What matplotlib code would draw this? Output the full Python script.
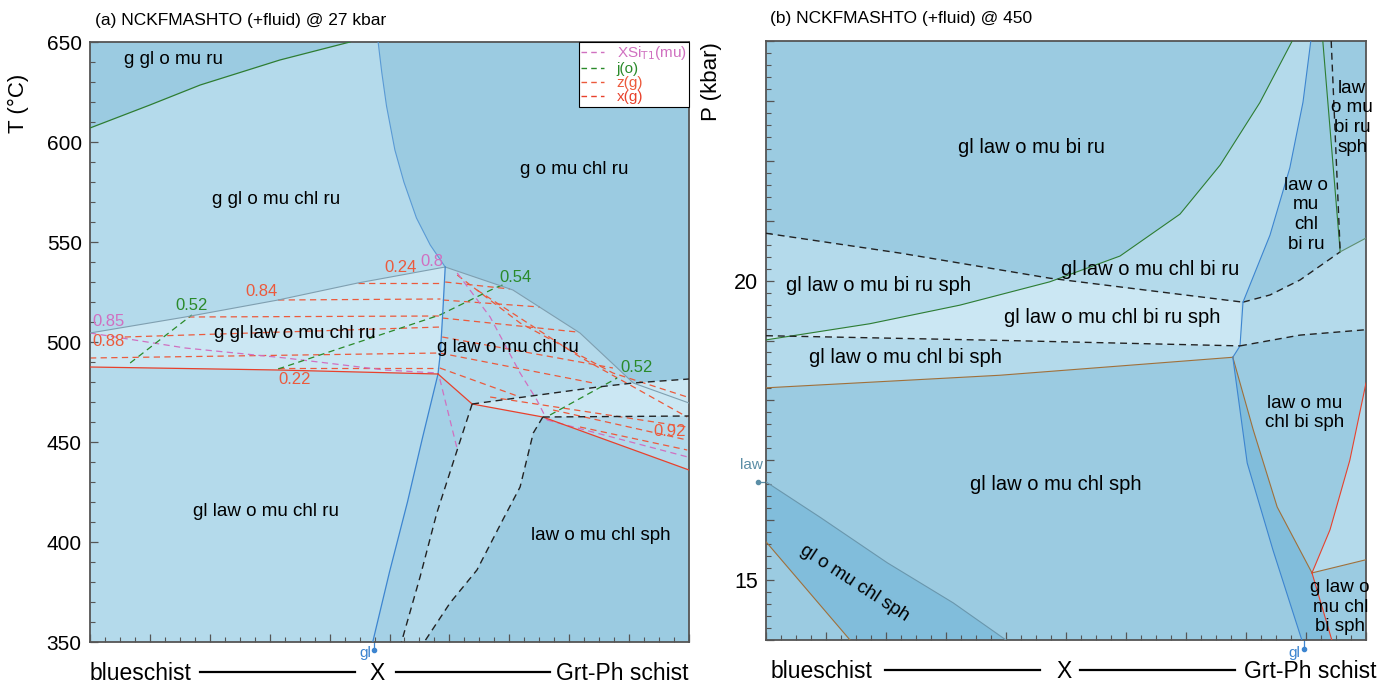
import numpy as np
import matplotlib.pyplot as plt
from matplotlib.ticker import MultipleLocator, FuncFormatter

plt.rcParams['font.family'] = ['Liberation Sans', 'DejaVu Sans']

# colours
C_LIGHTEST = '#cbe7f3'
C_LIGHT = '#b4daeb'
C_MID = '#9bcbe1'
C_STRIP = '#a5d1e6'
C_DARK = '#81bddb'
GREEN = '#2e7d32'
BLUE = '#3d85d0'
GREY = '#7f9fb0'
RED = '#e8412c'
BROWN = '#a0703a'
ISO_RED = '#ec5a3c'
ISO_PINK = '#d070c0'
ISO_GREEN = '#2a8a2a'

# ---------------- panel (a): X vs T @ 27 kbar ----------------
a_green_top = [(0, 607), (0.10, 618.5), (0.184, 628.5), (0.317, 641), (0.434, 650)]
a_blue_upper = [(0.481, 650), (0.487, 635), (0.495, 618), (0.509, 596), (0.524, 580),
                (0.545, 562), (0.568, 548.5), (0.593, 537.5)]
a_band_top = [(0, 504.5), (0.159, 512.5), (0.314, 521), (0.447, 529.5), (0.593, 537.5)]
a_curve_right = [(0.593, 537.5), (0.706, 526), (0.818, 504.5), (0.907, 479.5), (1.0, 469.5)]
a_blue_mid = [(0.593, 537.5), (0.589, 515), (0.585, 495), (0.581, 484)]
a_blue_lower = [(0.581, 484), (0.555, 452), (0.53, 420), (0.50, 385), (0.472, 350)]
a_band_bottom = [(0, 487.5), (0.314, 486), (0.581, 484)]
a_red_seg = [(0.581, 484), (0.638, 469)]
a_red_lower = [(0.638, 469), (0.756, 462.5), (1.0, 436)]
a_dash_upper = [(0.638, 469), (0.848, 477.5), (0.907, 479.5), (1.0, 481.5)]
a_dash_lower = [(0.756, 462.5), (1.0, 463)]
a_dash_down1 = [(0.638, 469), (0.613, 446), (0.579, 414.5), (0.551, 382.5), (0.52, 350)]
a_dash_down2 = [(0.756, 462.5), (0.740, 454.5), (0.718, 427.5), (0.689, 411),
                (0.646, 386), (0.601, 369.5), (0.558, 350)]

# isopleths
a_iso_red = [
    [(0.447, 529.5), (0.586, 529.5)],
    [(0.314, 521), (0.585, 521.5)],
    [(0.164, 512.5), (0.584, 513)],
    [(0.058, 502.5), (0.586, 507.5)],
    [(0, 492), (0.584, 494.5)],
    [(0.314, 487), (0.581, 487)],
    [(0.593, 530), (0.701, 526.5)],
    [(0.589, 521), (0.751, 517.5)],
    [(0.588, 512), (0.813, 505)],
    [(0.588, 502.5), (0.873, 487)],
    [(0.584, 494.5), (0.84, 479.5)],
    [(0.584, 487), (0.718, 472.5)],
    [(0.613, 533.5), (0.718, 509.5), (0.873, 484.5), (0.997, 472.5)],
    [(0.646, 526), (0.818, 492.5), (0.997, 462.5)],
    [(0.668, 472.5), (0.997, 457.5)],
    [(0.773, 466), (0.997, 451)],
    [(0.818, 457.5), (0.997, 446)],
]
a_iso_pink = [
    [(0, 504.5), (0.159, 497), (0.326, 492), (0.492, 486), (0.581, 484.5)],
    [(0.613, 534.5), (0.668, 512.5), (0.718, 484.5), (0.746, 471), (0.763, 461)],
    [(0.763, 461), (0.998, 442.5)],
    [(0.584, 481.5), (0.613, 446.5)],
]
a_iso_green = [
    [(0.067, 489.5), (0.17, 513.5)],
    [(0.314, 486.5), (0.584, 513.5), (0.676, 527), (0.693, 529)],
    [(0.768, 463.5), (0.880, 482)],
]
a_iso_labels = [('0.85', 0.004, 510.5, ISO_PINK), ('0.88', 0.004, 500, ISO_RED),
                ('0.52', 0.17, 518.5, ISO_GREEN), ('0.84', 0.287, 525, ISO_RED),
                ('0.24', 0.519, 537.5, ISO_RED), ('0.8', 0.571, 540.5, ISO_PINK),
                ('0.54', 0.71, 532, ISO_GREEN), ('0.22', 0.342, 481.5, ISO_RED),
                ('0.52', 0.912, 487.5, ISO_GREEN), ('0.92', 0.968, 455, ISO_RED)]
a_fields = [('g gl o mu ru', 0.139, 641), ('g gl o mu chl ru', 0.311, 571),
            ('g o mu chl ru', 0.808, 586), ('g gl law o mu chl ru', 0.342, 504.5),
            ('g law o mu chl ru', 0.698, 497.5), ('gl law o mu chl ru', 0.294, 415.5),
            ('law o mu chl sph', 0.853, 403)]
legend_labels = [r'XSi$_{\rm T1}$(mu)', 'j(o)', 'z(g)', 'x(g)']

# ---------------- panel (b): X vs P @ 450 ----------------
b_green_curve = [(0, 19.01), (0.173, 19.28), (0.323, 19.59), (0.473, 19.98), (0.59, 20.41),
                 (0.69, 21.11), (0.757, 21.93), (0.823, 22.97), (0.877, 24)]
b_sph_left = [(0, 20.79), (0.223, 20.46), (0.473, 20.04), (0.795, 19.64)]
b_sph_right = [(0.795, 19.64), (0.84, 19.76), (0.89, 20.01), (0.957, 20.48)]
b_blue_curve = [(0.908, 24), (0.895, 22.98), (0.873, 21.88), (0.84, 20.76), (0.795, 19.64)]
b_blue_short = [(0.795, 19.64), (0.79, 18.91), (0.778, 18.72)]
b_green_vert = [(0.928, 24), (0.957, 20.48)]
b_dash_vert = [(0.942, 24), (0.957, 20.48)]
b_grey_short = [(0.957, 20.48), (1.0, 20.71)]
b_ru_left = [(0, 19.08), (0.4, 19.0), (0.79, 18.91)]
b_ru_right = [(0.79, 18.91), (0.89, 19.09), (1.0, 19.18)]
b_bi_left = [(0, 18.21), (0.39, 18.42), (0.778, 18.72)]
b_bi_down = [(0.778, 18.72), (0.812, 17.51), (0.852, 16.22), (0.91, 15.12)]
b_blue_down = [(0.778, 18.72), (0.802, 16.955), (0.845, 15.5), (0.893, 14.0)]
b_red_upper = [(1.0, 18.29), (0.973, 17.0), (0.94, 15.84), (0.91, 15.12)]
b_red_lower = [(0.91, 15.12), (0.943, 14.0)]
b_bi_right = [(0.91, 15.12), (1.0, 15.34)]
b_law_line = [(0, 16.64), (0.09, 16.05), (0.202, 15.29), (0.312, 14.62), (0.4, 14.0)]
b_brown_ll = [(0, 15.64), (0.14, 14.0)]
b_fields = [('gl law o mu bi ru', 0.442, 22.23), ('gl law o mu chl bi ru', 0.64, 20.18),
            ('gl law o mu bi ru sph', 0.187, 19.91), ('gl law o mu chl bi ru sph', 0.577, 19.38),
            ('gl law o mu chl bi sph', 0.232, 18.71), ('gl law o mu chl sph', 0.483, 16.59)]
b_fields_multi = [('law o mu\nchl bi sph', 0.898, 17.79), ('law o\nmu\nchl\nbi ru', 0.9, 21.1),
                  ('law\no mu\nbi ru\nsph', 0.977, 22.72), ('g law o\nmu chl\nbi sph', 0.957, 14.55)]


def arr(pts):
    return np.asarray(pts, dtype=float)


def poly(ax, parts, color):
    p = np.vstack([arr(q) for q in parts])
    ax.fill(p[:, 0], p[:, 1], color=color, lw=0, zorder=1)


def line(ax, pts, color, ls='-', lw=0.9, z=3):
    p = arr(pts)
    if ls == '--':
        ax.plot(p[:, 0], p[:, 1], color=color, lw=lw, ls=(0, (5, 3.5)), zorder=z)
    else:
        ax.plot(p[:, 0], p[:, 1], color=color, lw=lw, zorder=z)


def style_axes(ax, labelsize):
    ax.set_xlim(0, 1)
    ax.xaxis.set_major_locator(MultipleLocator(0.1))
    ax.xaxis.set_minor_locator(MultipleLocator(0.025))
    ax.tick_params(axis='x', which='both', labelbottom=False)
    ax.tick_params(which='both', direction='in', color='#555555', top=False, right=False)
    ax.tick_params(which='major', length=6, width=0.9, labelsize=labelsize, pad=6)
    ax.tick_params(which='minor', length=3.5, width=0.8)
    for s in ax.spines.values():
        s.set_color('#555555')
        s.set_linewidth(1.3)


def bottom_caption(ax, x0, l1, xc, l2, x1):
    y = -0.053
    kw = dict(transform=ax.transAxes, fontsize=16.5, va='center', clip_on=False)
    ax.text(x0, y, 'blueschist', ha='left', **kw)
    ax.text(xc, y, 'X', ha='center', **kw)
    ax.text(x1, y, 'Grt-Ph schist', ha='right', **kw)
    for a, b in (l1, l2):
        ax.plot([a, b], [y + 0.003, y + 0.003], color='black', lw=1.6,
                transform=ax.transAxes, clip_on=False)


fig = plt.figure(figsize=(13.85, 6.88), dpi=100)
ax1 = fig.add_axes([90 / 1385, 46 / 688, 599 / 1385, 600 / 688])
ax2 = fig.add_axes([766 / 1385, 48 / 688, 600 / 1385, 599 / 688])

# ---- panel (a) ----
ax1.set_facecolor(C_LIGHT)
poly(ax1, [a_green_top, [(0, 650)]], C_MID)
poly(ax1, [a_blue_upper, a_curve_right[1:4], [(1.0, 481.5), (1.0, 650)]], C_MID)
poly(ax1, [a_band_top, a_blue_mid[1:], a_band_bottom[::-1][1:]], C_LIGHTEST)
poly(ax1, [a_dash_upper, a_dash_lower[::-1]], C_LIGHTEST)
poly(ax1, [a_red_seg, a_dash_down1[1:], a_blue_lower[::-1]], C_STRIP)
poly(ax1, [a_dash_down2, [(1.0, 350)], a_red_lower[::-1][:2]], C_MID)

for pts in a_iso_red:
    line(ax1, pts, ISO_RED, '--', 0.9, 2)
for pts in a_iso_pink:
    line(ax1, pts, ISO_PINK, '--', 0.9, 2)
for pts in a_iso_green:
    line(ax1, pts, ISO_GREEN, '--', 0.9, 2)

line(ax1, a_green_top, GREEN)
line(ax1, a_blue_upper, '#5a9ad5', lw=0.8)
line(ax1, a_band_top, GREY, lw=0.8)
line(ax1, a_curve_right, GREY, lw=0.8)
line(ax1, a_blue_mid, BLUE)
line(ax1, a_blue_lower, BLUE)
line(ax1, a_band_bottom, RED)
line(ax1, a_red_seg, RED)
line(ax1, a_red_lower, RED)
for pts in (a_dash_upper, a_dash_lower, a_dash_down1, a_dash_down2):
    line(ax1, pts, '#222222', '--', 1.0)

for txt, x, y, c in a_iso_labels:
    ax1.text(x, y, txt, color=c, fontsize=12, ha='left' if x < 0.01 else 'center',
             va='center', zorder=5)
for txt, x, y in a_fields:
    ax1.text(x, y, txt, fontsize=13.5, ha='center', va='center', zorder=5)

ax1.set_ylim(350, 650)
ax1.yaxis.set_major_locator(MultipleLocator(50))
ax1.yaxis.set_minor_locator(MultipleLocator(10))
style_axes(ax1, 15)

legend_handles = [ax1.plot([], [], color=c, ls=(0, (4, 3)), lw=1, label=lab)[0]
                  for c, lab in zip([ISO_PINK, ISO_GREEN, ISO_RED, RED], legend_labels)]
leg = ax1.legend(handles=legend_handles, loc='upper right', bbox_to_anchor=(1.0, 1.0),
                 borderaxespad=0, fontsize=11, handlelength=1.5, handletextpad=0.8,
                 labelspacing=0.0, borderpad=0.15, fancybox=False, framealpha=1,
                 edgecolor='black', labelcolor='linecolor')
leg.get_frame().set_linewidth(0.8)
leg.set_zorder(10)

ax1.plot([0.474, 0.474], [350, 346], color=BLUE, lw=0.9, clip_on=False)
ax1.plot([0.474], [346], 'o', ms=3, color=BLUE, clip_on=False)
ax1.text(0.469, 344.5, 'gl', color=BLUE, fontsize=11, ha='right', va='center')
ax1.text(0.008, 1.023, '(a) NCKFMASHTO (+fluid) @ 27 kbar', transform=ax1.transAxes,
         fontsize=12.5, ha='left', va='bottom')
bottom_caption(ax1, 0.0, (0.184, 0.442), 0.48, (0.511, 0.768), 1.0)

# ---- panel (b) ----
ax2.set_facecolor(C_MID)
poly(ax2, [b_green_curve, b_blue_curve, b_blue_short[1:], b_bi_left[::-1]], C_LIGHT)
poly(ax2, [b_sph_left, b_blue_short[1:], b_bi_left[::-1]], C_LIGHT)
xg = np.linspace(0, 0.79, 300)
upper = np.minimum(np.interp(xg, *arr(b_green_curve).T), np.interp(xg, *arr(b_sph_left).T))
lower = np.interp(xg, *arr(b_ru_left).T)
ax2.fill_between(xg, lower, upper, color=C_LIGHTEST, lw=0, zorder=1)
poly(ax2, [b_sph_right, b_grey_short[1:], b_ru_right[::-1], b_blue_short[:1]], C_LIGHT)
poly(ax2, [b_red_upper, b_bi_right[1:]], C_LIGHT)
poly(ax2, [b_blue_down, b_red_lower[::-1], b_bi_down[::-1]], C_DARK)
poly(ax2, [b_law_line, b_brown_ll[::-1]], C_DARK)

line(ax2, b_green_curve, GREEN, lw=0.8)
line(ax2, b_sph_left, '#222222', '--', 1.0)
line(ax2, b_sph_right, '#222222', '--', 1.0)
line(ax2, b_blue_curve, BLUE, lw=0.8)
line(ax2, b_blue_short, BLUE, lw=0.8)
line(ax2, b_green_vert, GREEN, lw=0.8)
line(ax2, b_dash_vert, '#222222', '--', 1.0)
line(ax2, b_grey_short, '#5f8f70', lw=0.8)
line(ax2, b_ru_left, '#222222', '--', 1.0)
line(ax2, b_ru_right, '#222222', '--', 1.0)
line(ax2, b_bi_left, BROWN, lw=0.8)
line(ax2, b_bi_down, BROWN, lw=0.8)
line(ax2, b_bi_right, BROWN, lw=0.8)
line(ax2, b_blue_down, BLUE, lw=0.8)
line(ax2, b_red_upper, RED, lw=0.8)
line(ax2, b_red_lower, RED, lw=0.8)
line(ax2, b_law_line, '#6a97ad', lw=0.8)
line(ax2, b_brown_ll, BROWN, lw=0.8)

for txt, x, y in b_fields:
    ax2.text(x, y, txt, fontsize=14.5, ha='center', va='center', zorder=5)
for txt, x, y in b_fields_multi:
    ax2.text(x, y, txt, fontsize=13.6, ha='center', va='center', linespacing=1.2, zorder=5)
ax2.text(0.148, 14.95, 'gl o mu chl sph', fontsize=13.6, ha='center', va='center',
         rotation=-33, rotation_mode='anchor', zorder=5)

ax2.set_ylim(14, 24)
ax2.yaxis.set_major_locator(MultipleLocator(1))
ax2.yaxis.set_minor_locator(MultipleLocator(0.2))
ax2.yaxis.set_major_formatter(FuncFormatter(lambda v, _: f'{v:.0f}' if round(v) in (15, 20) else ''))
style_axes(ax2, 15.5)

ax2.plot([0, -0.013], [16.64, 16.64], color='#5b8ea6', lw=0.9, clip_on=False)
ax2.plot([-0.013], [16.64], 'o', ms=3, color='#5b8ea6', clip_on=False)
ax2.text(-0.005, 16.8, 'law', color='#5b8ea6', fontsize=11, ha='right', va='bottom')
ax2.plot([0.897, 0.897], [14.0, 13.85], color=BLUE, lw=0.9, clip_on=False)
ax2.plot([0.897], [13.85], 'o', ms=3, color=BLUE, clip_on=False)
ax2.text(0.891, 13.78, 'gl', color=BLUE, fontsize=11, ha='right', va='center')
ax2.text(0.007, 1.025, '(b) NCKFMASHTO (+fluid) @ 450', transform=ax2.transAxes,
         fontsize=12.5, ha='left', va='bottom')
bottom_caption(ax2, 0.007, (0.198, 0.457), 0.497, (0.523, 0.782), 1.017)

fig.text(18 / 1385, 1 - 103 / 688, 'T (°C)', rotation=90, fontsize=16, ha='center', va='center')
fig.text(712 / 1385, 1 - 82 / 688, 'P (kbar)', rotation=90, fontsize=16, ha='center', va='center')

fig.savefig('out.png', dpi=100)
